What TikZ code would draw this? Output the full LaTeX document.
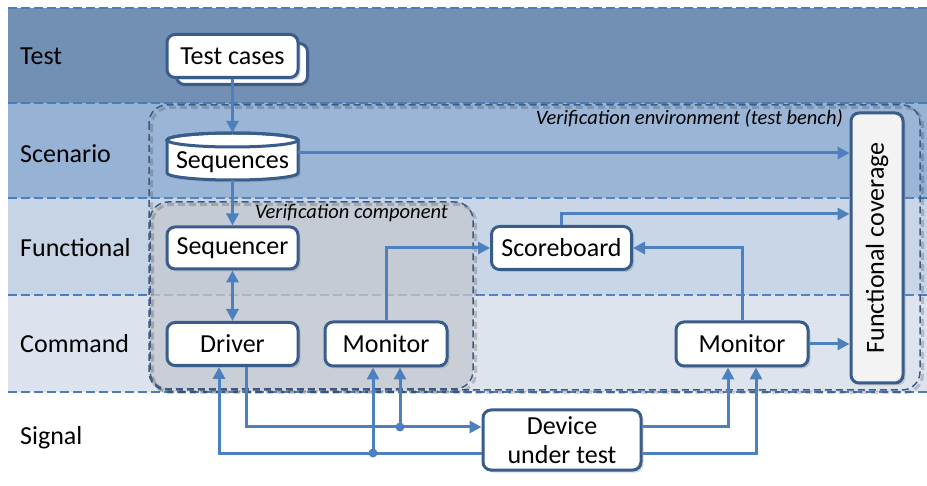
\documentclass[tikz,border=0pt]{standalone}
\usepackage{fontspec}
\setmainfont{Carlito}
\usetikzlibrary{arrows.meta,shadows,calc}

\definecolor{laneTest}{RGB}{114,143,180}
\definecolor{laneScen}{RGB}{150,178,212}
\definecolor{laneFunc}{RGB}{198,212,230}
\definecolor{laneCmd}{RGB}{220,227,238}
\definecolor{sepline}{RGB}{74,126,187}
\definecolor{wire}{RGB}{76,128,190}
\definecolor{boxline}{RGB}{56,93,138}
\definecolor{envline}{RGB}{62,90,130}
\definecolor{compfill}{RGB}{196,200,208}
\definecolor{covfill}{RGB}{243,243,243}

\tikzset{
  lanesep/.style={draw=sepline, line width=1.4pt, dash pattern=on 9pt off 4pt},
  lanelabel/.style={anchor=west, font=\fontsize{26}{29}\selectfont, inner sep=0pt},
  envbox/.style={draw=envline, line width=1.5pt, dash pattern=on 7pt off 4pt, rounded corners=18pt},
  envshade/.style={draw=black, draw opacity=0.18, line width=3pt, dash pattern=on 7pt off 4pt, rounded corners=18pt},
  blockbox/.style={draw=boxline, line width=3pt, fill=white, rounded corners=8pt,
    font=\fontsize{26}{29}\selectfont, inner sep=0pt,
    drop shadow={shadow xshift=2.5pt, shadow yshift=-2.5pt, opacity=0.3}},
  wireline/.style={draw=wire, line width=3pt, -{Triangle[length=12pt,width=12pt]}},
  wireplain/.style={draw=wire, line width=3pt},
  junction/.style={circle, fill=wire, inner sep=0pt, minimum size=9pt},
  caption/.style={font=\fontsize{20.5}{23}\selectfont\itshape, inner sep=0pt},
}

\begin{document}
\begin{tikzpicture}[x=1pt,y=-1pt]
\useasboundingbox (0,0) rectangle (927,486);

% swim lanes
\fill[laneTest] (8,8) rectangle (927,103);
\fill[laneScen] (8,103) rectangle (927,198);
\fill[laneFunc] (8,198) rectangle (927,295);
\fill[laneCmd]  (8,295) rectangle (927,392);
\foreach \yy in {8,103,198,295,392}
  \draw[lanesep] (8,\yy) -- (927,\yy);

\node[lanelabel] (lTest) at (20,56)  {Test};
\node[lanelabel] (lScen) at (20,154) {Scenario};
\node[lanelabel] (lFunc) at (20,248) {Functional};
\node[lanelabel] (lCmd)  at (20,344) {Command};
\node[lanelabel] (lSig)  at (20,438) {Signal};

% verification environment frame
\path[envshade] (151.5,107.5) rectangle (922.5,392.5);
\path[envbox, fill=white, fill opacity=0.05] (149,105) rectangle (920,390);
\node[caption, anchor=east] (envcap) at (843,118) {Verification environment (test bench)};

% verification component frame
\path[fill=compfill, fill opacity=0.75, rounded corners=18pt] (150,202) rectangle (473,389);
\path[envshade] (152.5,204.5) rectangle (475.5,391.5);
\path[envbox] (150,202) rectangle (473,389);
\node[caption, anchor=east] (compcap) at (448,213) {Verification component};

% test cases (stacked)
\node[blockbox, minimum width=131pt, minimum height=41pt] (tcback) at (242,64) {};
\node[blockbox, minimum width=131pt, minimum height=43pt] (tc) at (232.5,56) {Test cases};

% sequences (cylinder)
\path[draw=boxline, line width=3pt, fill=white,
      drop shadow={shadow xshift=2.5pt, shadow yshift=-2.5pt, opacity=0.3}]
  (167,140) -- (167,173) arc[start angle=180, end angle=360, x radius=65.5pt, y radius=7pt]
  -- (298,140) arc[start angle=0, end angle=180, x radius=65.5pt, y radius=7pt] -- cycle;
\draw[boxline, line width=3pt] (232.5,140) ellipse [x radius=65.5pt, y radius=7pt];
\node[inner sep=0pt, minimum width=131pt, minimum height=47pt] (seq) at (232.5,156.5) {};
\node[font=\fontsize{26}{29}\selectfont, inner sep=0pt] (seqtxt) at (232.5,162) {Sequences};

% blocks
\node[blockbox, minimum width=131pt, minimum height=42pt] (sqr) at (232.5,248) {Sequencer};
\node[blockbox, minimum width=131pt, minimum height=43pt] (drv) at (232.5,344) {Driver};
\node[blockbox, minimum width=122pt, minimum height=44pt] (monL) at (386,344) {Monitor};
\node[blockbox, minimum width=140pt, minimum height=43pt] (sb) at (561.5,248) {Scoreboard};
\node[blockbox, minimum width=132pt, minimum height=44pt] (monR) at (742,344) {Monitor};
\node[blockbox, fill=covfill, minimum width=52pt, minimum height=270pt] (cov) at (877,248) {};
\node[rotate=90, font=\fontsize{26}{29}\selectfont, inner sep=0pt] (covtxt) at (cov.center) {Functional coverage};
\node[blockbox, minimum width=158pt, minimum height=60pt, align=center,
      font=\fontsize{26}{29}\selectfont] (dut) at (562,440) {Device\\under test};

% junction points
\coordinate (jA) at (400,427);
\coordinate (jB) at (373,453);

% connectors
\draw[wireline] (tc.south) -- (tc.south |- seq.north);
\draw[wireline] (298,153) -- (cov.west |- 0,153);
\draw[wireline] (232.5,180) -- (sqr.north);
\draw[wireplain, {Triangle[length=12pt,width=12pt]}-{Triangle[length=12pt,width=12pt]}] (sqr.south) -- (drv.north);
\draw[wireline] (monL.north) |- (sb.west);
\draw[wireline] (sb.north) |- (cov.west |- 0,214);
\draw[wireline] (monR.north) |- (sb.east);
\draw[wireline] (monR.east) -- (cov.west |- monR.east);

% signal level
\draw[wireline] ($(drv.south)+(13.5,0)$) |- (dut.west |- 0,427);
\draw[wireline] (jA) -- (jA |- monL.south);
\draw[wireline] (dut.west |- 0,453) -| ($(drv.south)+(-13.5,0)$);
\draw[wireline] (jB) -- (jB |- monL.south);
\draw[wireline] (dut.east |- 0,427) -| ($(monR.south)+(-14,0)$);
\draw[wireline] (dut.east |- 0,453) -| ($(monR.south)+(14,0)$);
\node[junction] (dotA) at (jA) {};
\node[junction] (dotB) at (jB) {};
\end{tikzpicture}
\end{document}
